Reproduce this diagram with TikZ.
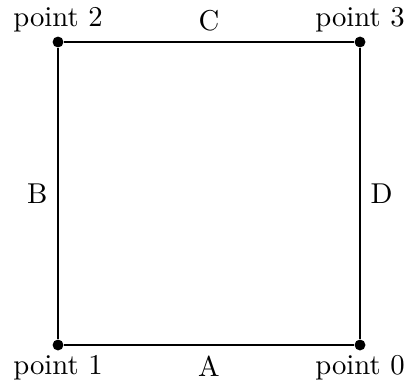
\documentclass[tikz,border=0pt]{standalone}
\begin{document}
\begin{tikzpicture}[x=0.3484pt,y=-0.3484pt,
  dot/.style={circle,fill=black,inner sep=0pt,minimum size=3.8pt},
  edge/.style={line width=0.7pt}]
\useasboundingbox (0,0) rectangle (406,383);
\node[dot] (p0) at (360,345) {};
\node[dot] (p1) at (58,345) {};
\node[dot] (p2) at (58,42) {};
\node[dot] (p3) at (360,42) {};
\draw[edge] (p1) -- node[below=0pt] {A} (p0);
\draw[edge] (p0) -- node[right=0pt] {D} (p3);
\draw[edge] (p3) -- node[above=0pt] {C} (p2);
\draw[edge] (p2) -- node[left=0pt] {B} (p1);
\node[above=0pt] (l2) at (p2) {point 2};
\node[above=0pt] (l3) at (p3) {point 3};
\node[below=0pt] (l1) at (p1) {point 1};
\node[below=0pt] (l0) at (p0) {point 0};
\end{tikzpicture}
\end{document}
